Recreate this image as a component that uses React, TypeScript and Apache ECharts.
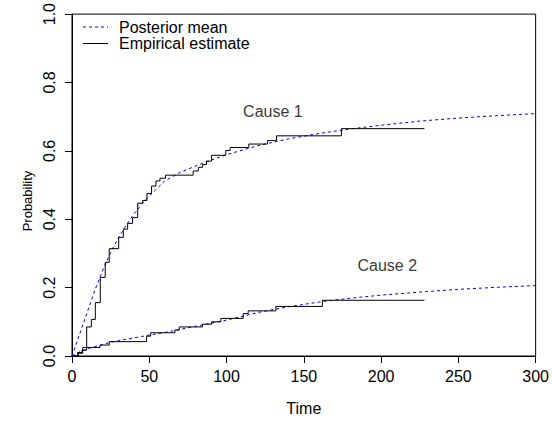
import React, { useEffect, useRef } from 'react';
import * as echarts from 'echarts';

// Posterior mean curves
const postTime = [0, 5, 10, 15, 20, 25, 30, 35, 40, 45, 50, 60, 70, 80, 90, 100, 120, 140, 160, 180, 200, 225, 250, 275, 300];
const postCause1 = [0, 0.065, 0.13, 0.195, 0.252, 0.303, 0.345, 0.382, 0.415, 0.443, 0.468, 0.512, 0.537, 0.556, 0.573, 0.589, 0.615, 0.635, 0.651, 0.664, 0.675, 0.687, 0.696, 0.703, 0.709];
const postCause2 = [0, 0.012, 0.021, 0.028, 0.034, 0.04, 0.045, 0.049, 0.053, 0.057, 0.061, 0.069, 0.078, 0.087, 0.096, 0.105, 0.127, 0.144, 0.158, 0.169, 0.178, 0.187, 0.195, 0.201, 0.206];

// Empirical step estimates
const empTime1 = [0, 3.7, 6.5, 9.5, 12.5, 15.1, 18.3, 21.5, 24.1, 30.2, 33.2, 36, 39.2, 42.5, 45.7, 48.5, 51.5, 54.3, 56.9, 60.5, 78.4, 81.7, 84.5, 87, 90.3, 99.5, 102.3, 114.4, 126.5, 132.3, 174.3, 228];
const empCause1 = [0, 0.01, 0.017, 0.085, 0.107, 0.156, 0.23, 0.274, 0.314, 0.347, 0.371, 0.388, 0.405, 0.447, 0.455, 0.475, 0.497, 0.512, 0.52, 0.529, 0.541, 0.552, 0.56, 0.57, 0.587, 0.601, 0.61, 0.62, 0.63, 0.644, 0.665, 0.665];
const empTime2 = [0, 4.1, 6.9, 18.1, 24.1, 48.3, 50.9, 66.6, 69.4, 84.5, 90.3, 96.3, 110.8, 114, 131.9, 162, 228];
const empCause2 = [0, 0.008, 0.025, 0.032, 0.042, 0.058, 0.068, 0.076, 0.085, 0.093, 0.1, 0.11, 0.124, 0.132, 0.145, 0.163, 0.163];

const labelText = ['Cause 1', 'Cause 2'];
const labelTime = [130, 204];
const labelProb = [0.715, 0.265];

const legendNames = ['Posterior mean', 'Empirical estimate'];

const xTicks = { min: 0, max: 300, interval: 50 };
const yTicks = { min: 0, max: 1, interval: 0.2 };

const FONT = "'Liberation Sans', Arial, Helvetica, sans-serif";
const BLUE = '#0000ff';

const zip = (a: number[], b: number[]) => a.map((v, i) => [v, b[i]]);

export default function App() {
  const ref = useRef<HTMLDivElement>(null);
  useEffect(() => {
    if (!ref.current) return;
    const chart = echarts.init(ref.current, undefined, { renderer: 'svg' });
    const dashed = { color: BLUE, width: 1, type: [3, 3] as any };
    const solid = { color: '#000000', width: 1 };
    const legendRows = [27, 43.5];
    chart.setOption({
      animation: false,
      backgroundColor: '#ffffff',
      textStyle: { fontFamily: FONT },
      grid: {
        left: 72, top: 12, width: 464, height: 344,
        show: true, borderColor: '#000', borderWidth: 1, backgroundColor: 'transparent',
      },
      xAxis: {
        type: 'value',
        ...xTicks,
        name: 'Time',
        nameLocation: 'middle',
        nameGap: 44,
        nameTextStyle: { fontSize: 16, color: '#000', fontFamily: FONT },
        axisLine: { show: true, onZero: false, lineStyle: { color: '#000', width: 1 } },
        axisTick: { show: true, length: 7, lineStyle: { color: '#000' } },
        axisLabel: { fontSize: 16, color: '#000', margin: 12, fontFamily: FONT },
        splitLine: { show: false },
      },
      yAxis: {
        type: 'value',
        ...yTicks,
        axisLine: { show: true, onZero: false, lineStyle: { color: '#000', width: 1 } },
        axisTick: { show: true, length: 7, lineStyle: { color: '#000' } },
        axisLabel: {
          fontSize: 16, color: '#000', margin: 15, rotate: 90, fontFamily: FONT,
          formatter: (v: number) => v.toFixed(1),
        },
        splitLine: { show: false },
      },
      graphic: [
        {
          type: 'text', x: 27, y: 201, rotation: Math.PI / 2,
          style: { text: 'Probability', font: `13px ${FONT}`, fill: '#000', align: 'center', verticalAlign: 'middle', textAlign: 'center', textVerticalAlign: 'middle' },
        },
        {
          type: 'line', shape: { x1: 83, y1: legendRows[0], x2: 108, y2: legendRows[0] },
          style: { stroke: BLUE, lineWidth: 1, lineDash: [3, 3] },
        },
        {
          type: 'line', shape: { x1: 83, y1: legendRows[1], x2: 108, y2: legendRows[1] },
          style: { stroke: '#000', lineWidth: 1 },
        },
        {
          type: 'text', x: 119, y: legendRows[0],
          style: { text: legendNames[0], font: `16px ${FONT}`, fill: '#000', align: 'left', verticalAlign: 'middle', textAlign: 'left', textVerticalAlign: 'middle' },
        },
        {
          type: 'text', x: 119, y: legendRows[1],
          style: { text: legendNames[1], font: `16px ${FONT}`, fill: '#000', align: 'left', verticalAlign: 'middle', textAlign: 'left', textVerticalAlign: 'middle' },
        },
      ],
      series: [
        { name: legendNames[0], type: 'line', data: zip(postTime, postCause1), symbol: 'none', lineStyle: dashed, itemStyle: { color: BLUE } },
        { name: legendNames[0], type: 'line', data: zip(postTime, postCause2), symbol: 'none', lineStyle: dashed, itemStyle: { color: BLUE } },
        { name: legendNames[1], type: 'line', step: 'end', data: zip(empTime1, empCause1), symbol: 'none', lineStyle: solid, itemStyle: { color: '#000' } },
        { name: legendNames[1], type: 'line', step: 'end', data: zip(empTime2, empCause2), symbol: 'none', lineStyle: solid, itemStyle: { color: '#000' } },
        {
          name: 'labels', type: 'scatter', silent: true, symbolSize: 0,
          itemStyle: { color: '#000' },
          data: labelText.map((t, i) => ({ value: [labelTime[i], labelProb[i]], name: t })),
          label: {
            show: true, position: 'inside', formatter: (p: any) => p.name,
            fontSize: 16, color: '#000', fontFamily: FONT, textBorderWidth: 0,
          },
        },
      ],
    });
    return () => chart.dispose();
  }, []);
  return <div ref={ref} style={{ position: 'fixed', left: 0, top: 0, width: 552, height: 423, background: '#fff' }} />;
}
